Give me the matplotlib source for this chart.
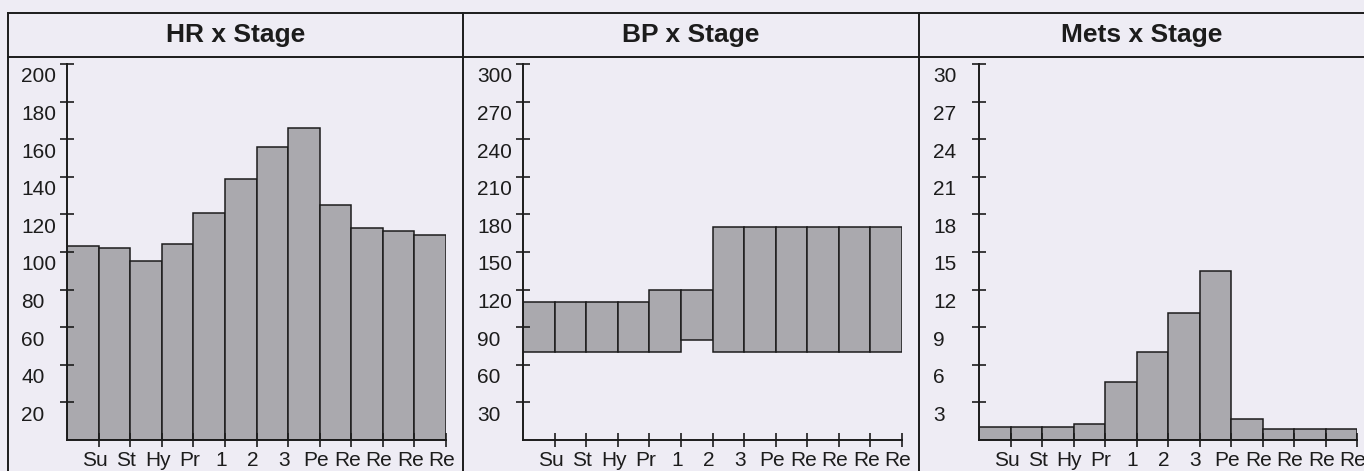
import matplotlib.pyplot as plt
import matplotlib.transforms as mtransforms
from matplotlib.lines import Line2D
import numpy as np

plt.rcParams['font.family'] = ['Liberation Sans', 'DejaVu Sans']

# data
stages = ['Su', 'St', 'Hy', 'Pr', '1', '2', '3', 'Pe', 'Re', 'Re', 'Re', 'Re']
hr = [103, 102, 95, 104, 121, 139, 156, 166, 125, 113, 111, 109]
bp_sys = [110, 110, 110, 110, 120, 120, 170, 170, 170, 170, 170, 170]
bp_dia = [70, 70, 70, 70, 70, 80, 70, 70, 70, 70, 70, 70]
mets = [1.0, 1.0, 1.0, 1.3, 4.6, 7.0, 10.1, 13.5, 1.7, 0.9, 0.9, 0.9]

hr_ticks = [20, 40, 60, 80, 100, 120, 140, 160, 180, 200]
bp_ticks = [30, 60, 90, 120, 150, 180, 210, 240, 270, 300]
mets_ticks = [3, 6, 9, 12, 15, 18, 21, 24, 27, 30]

W, H = 1364, 471
bg = '#eeecf4'
bar_col = '#aaa9ae'
ink = '#1c1c1c'

fig = plt.figure(figsize=(W / 100, H / 100), dpi=100)
fig.patch.set_facecolor(bg)


def off(dx, dy):
    return mtransforms.ScaledTranslation(dx / 100, dy / 100, fig.dpi_scale_trans)


# title, panel x0, panel x1, axis left, axis right, heights, bottoms, ymax, ticks
panels = [
    ('HR x Stage', 8, 463, 67, 446, hr, None, 200, hr_ticks),
    ('BP x Stage', 463, 919, 523, 902, bp_sys, bp_dia, 300, bp_ticks),
    ('Mets x Stage', 919, W, 979, 1357, mets, None, 30, mets_ticks),
]

y_top, y_bot = 64, 440
x = np.arange(len(stages))

for title, p0, p1, a0, a1, vals, base, ymax, yt in panels:
    ax = fig.add_axes([a0 / W, 1 - y_bot / H, (a1 - a0) / W, (y_bot - y_top) / H])
    ax.set_facecolor('none')
    if base is None:
        ax.bar(x, vals, width=1, align='edge', color=bar_col, edgecolor=ink, linewidth=1.1)
    else:
        ax.bar(x, np.array(vals) - np.array(base), bottom=base, width=1, align='edge',
               color=bar_col, edgecolor=ink, linewidth=1.1)
    ax.set_xlim(0, len(stages))
    ax.set_ylim(0, ymax)
    for s in ['top', 'right']:
        ax.spines[s].set_visible(False)
    for s in ['left', 'bottom']:
        ax.spines[s].set_color(ink)
        ax.spines[s].set_linewidth(1.4)
    ax.set_xticks(np.arange(1, len(stages) + 1))
    ax.set_yticks(yt)
    ax.set_xticklabels([])
    ax.set_yticklabels([])
    ax.tick_params(direction='inout', length=10, width=1.2, color=ink)

    # labels sit a little off their ticks like in the printout
    xtr = mtransforms.blended_transform_factory(ax.transData, ax.transAxes) + off(-4, -21)
    for i, lab in enumerate(stages):
        ax.text(i + 1, 0, lab, transform=xtr, ha='center', va='center',
                fontsize=15, color=ink, clip_on=False)
    ytr = ax.transData + off(-46, -13)
    for v in yt:
        ax.text(0, v, str(v), transform=ytr, ha='left', va='center',
                fontsize=15, color=ink, clip_on=False)

    fig.text((p0 + p1) / 2 / W, 1 - 35 / H, title, ha='center', va='center',
             fontsize=19, fontweight='bold', color=ink)

# panel frame
def fline(xs, ys):
    fig.add_artist(Line2D([v / W for v in xs], [1 - v / H for v in ys],
                          transform=fig.transFigure, color=ink, linewidth=1.4))

fline([8, W], [13, 13])
fline([8, W], [57, 57])
for xv in [8, 463, 919]:
    fline([xv, xv], [13, H])

fig.savefig('out.png', dpi=100, facecolor=bg)
